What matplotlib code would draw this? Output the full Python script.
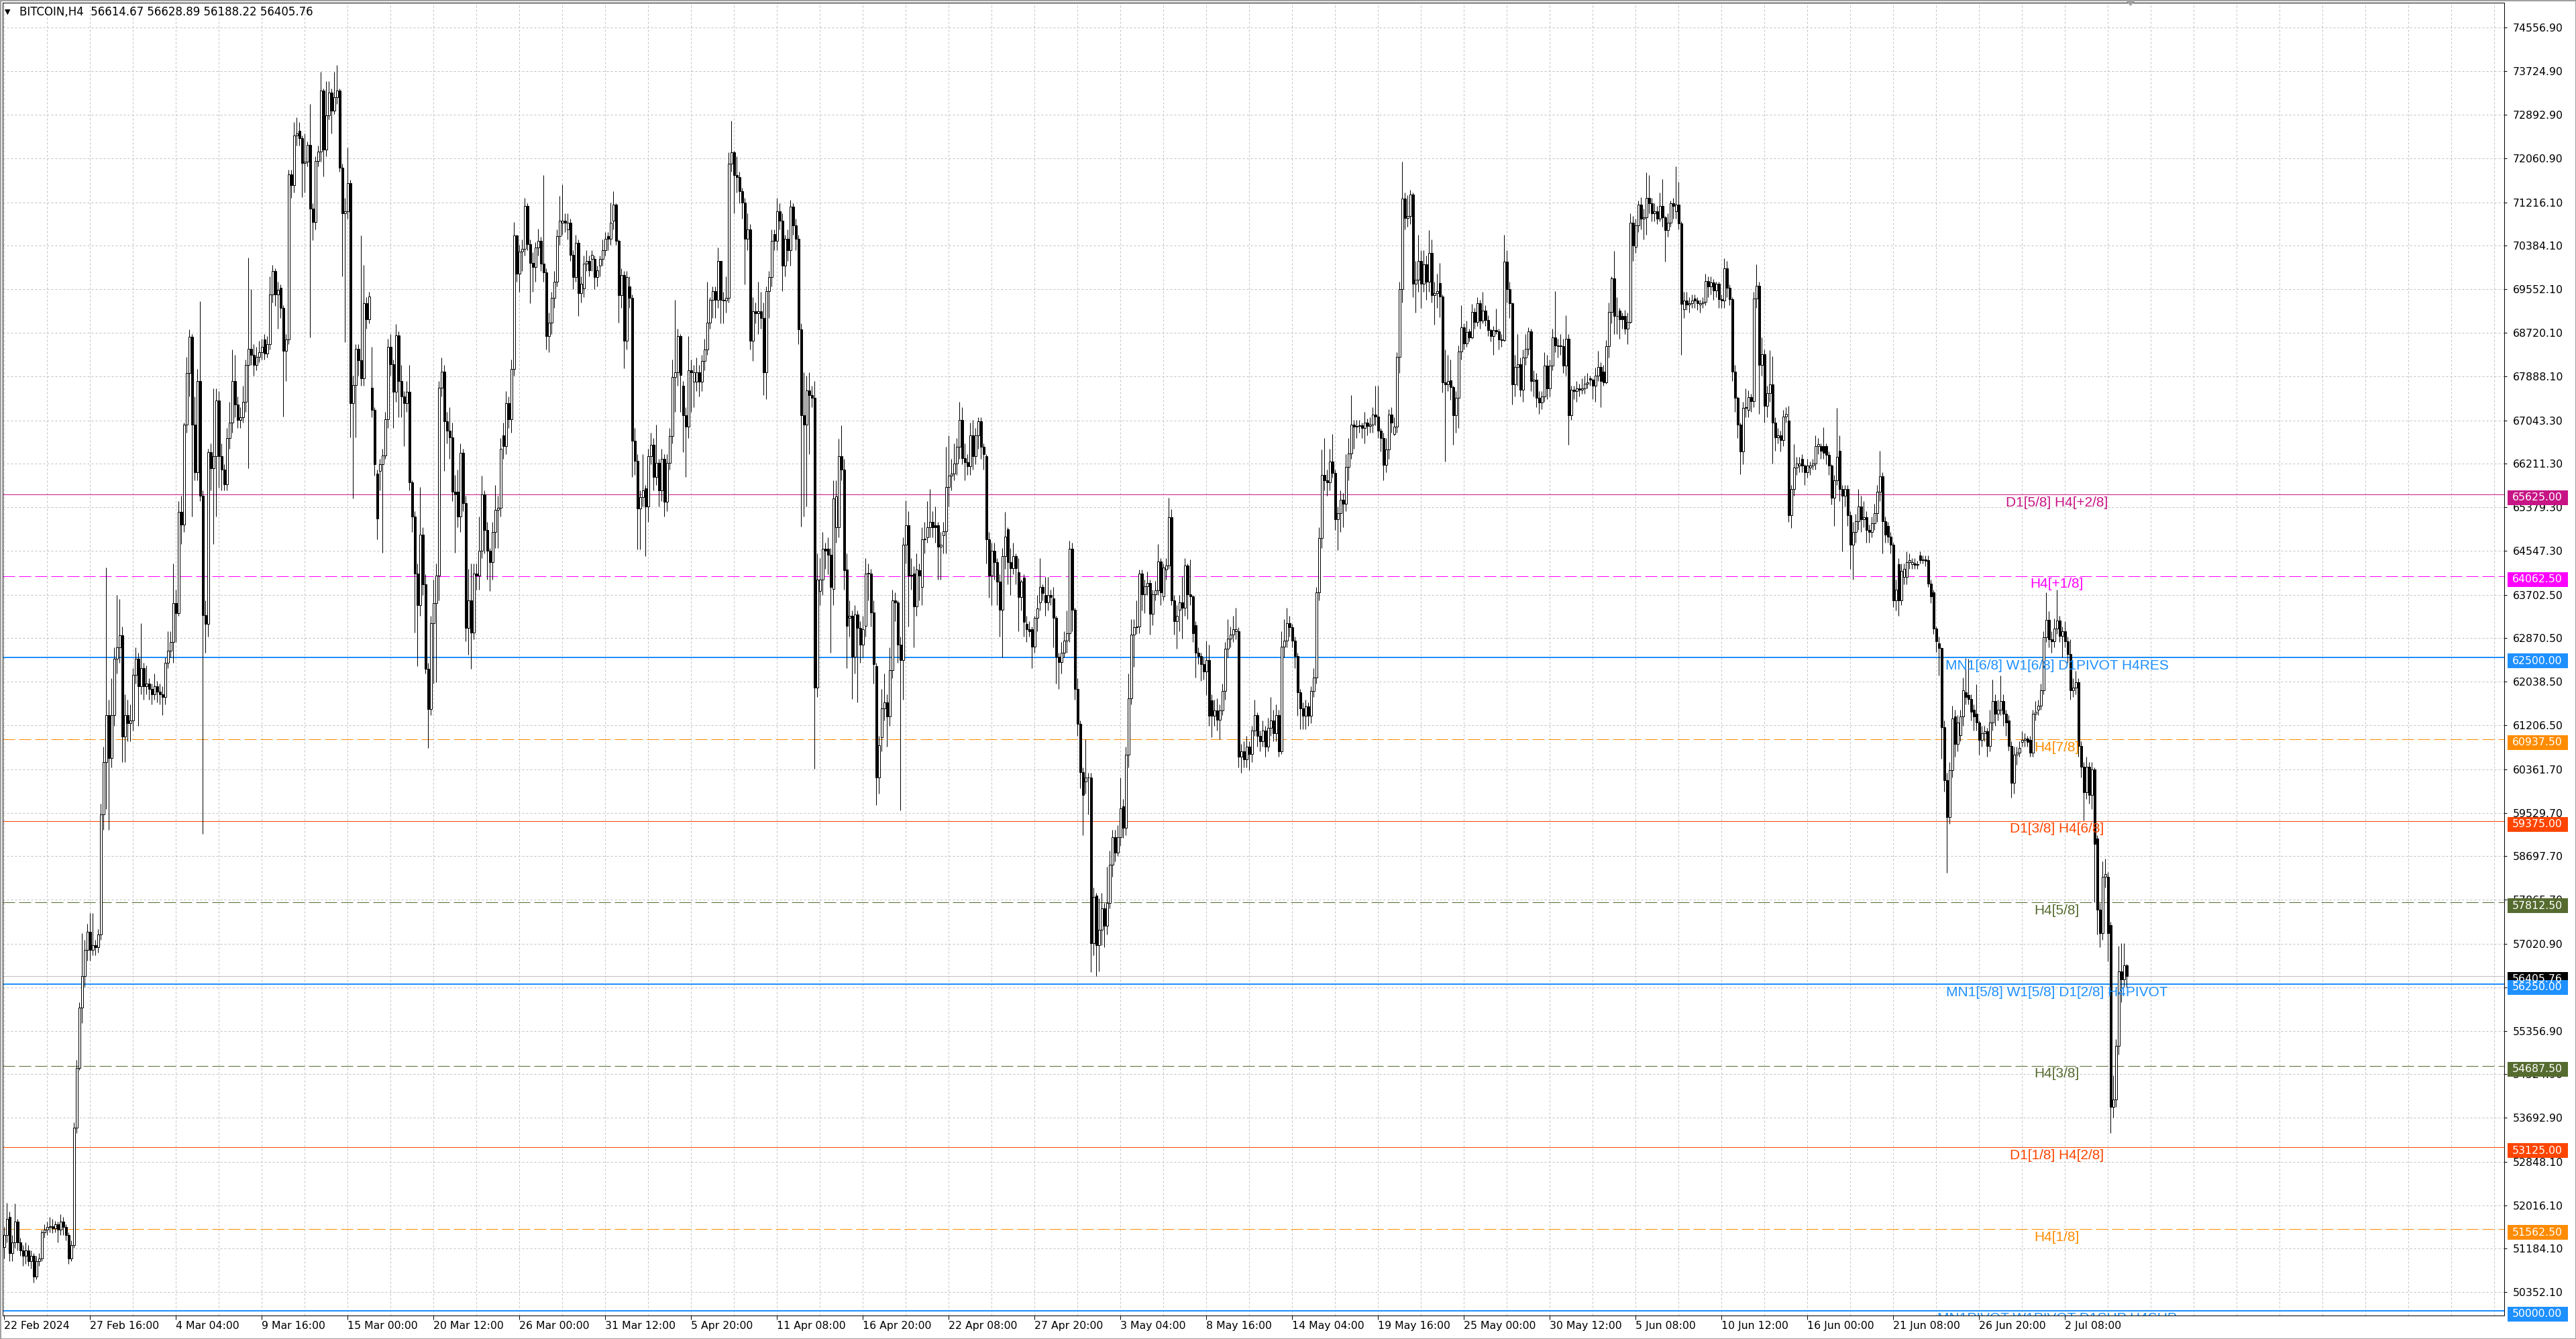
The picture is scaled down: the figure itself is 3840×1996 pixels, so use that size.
import numpy as np
import matplotlib
matplotlib.use("Agg")
import matplotlib.pyplot as plt
from matplotlib.patches import Rectangle, Polygon
from matplotlib.transforms import blended_transform_factory

# H4 candles, (open, high, low, close), one list per stretch
seg_feb = [
    (51220, 51600, 51000, 51450), (51450, 52060, 51300, 51750), (51800, 51900, 50950, 51100),
    (51100, 51450, 50950, 51300), (51300, 52050, 51200, 51700), (51700, 51750, 51150, 51300),
    (51300, 51400, 51050, 51150), (51150, 51250, 50850, 51050), (51050, 51300, 50900, 51150),
    (51150, 51250, 50850, 50950), (50950, 51150, 50800, 51050), (51050, 51100, 50540, 50650),
    (50650, 51050, 50600, 50950), (50950, 51100, 50850, 51000), (51000, 51550, 50950, 51500),
    (51500, 51650, 51400, 51550), (51550, 51700, 51450, 51600), (51600, 51800, 51500, 51620),
    (51620, 51750, 51480, 51580), (51580, 51720, 51500, 51650), (51650, 51700, 51300, 51550),
    (51550, 51850, 51450, 51700), (51700, 51800, 51450, 51600), (51600, 51650, 51350, 51450),
    (51450, 51500, 50900, 51000), (51000, 51350, 50950, 51250), (51250, 53600, 51200, 53500),
    (53500, 54800, 53400, 54640), (54640, 55900, 54600, 55800), (55800, 57230, 55500, 56400),
    (56400, 57100, 56200, 56900), (56900, 57400, 56700, 57250), (57250, 57610, 56700, 56900),
    (56900, 57610, 56800, 57000), (57000, 57100, 56800, 56950), (56950, 57300, 56850, 57200),
    (57200, 59700, 57100, 59500), (59500, 60800, 59200, 60500), (60500, 64225, 59600, 61400),
    (61400, 61700, 59210, 60580), (60580, 62100, 60400, 61400), (61400, 62700, 61200, 62480),
    (62480, 63700, 62200, 62700), (62700, 63620, 62400, 62930), (62930, 63100, 60500, 60990),
    (60990, 61800, 60500, 61400), (61400, 61700, 60900, 61250), (61250, 61600, 60900, 61300),
    (61300, 62300, 61100, 62170), (62170, 62700, 62000, 62480), (62480, 62600, 61200, 61950),
    (61950, 63160, 61800, 62300), (62300, 62400, 61700, 61950), (61950, 62350, 61800, 62000),
    (62000, 62100, 61700, 61900), (61900, 62000, 61600, 61800), (61800, 62200, 61700, 61950),
    (61950, 62050, 61650, 61850), (61850, 62000, 61600, 61800), (61800, 61950, 61400, 61750),
    (61750, 62500, 61600, 62400), (62400, 63000, 62300, 62630), (62630, 63000, 62500, 62800),
    (62800, 64300, 62400, 63540), (63540, 63800, 62800, 63350), (63350, 65500, 63300, 65290),
    (65290, 65600, 64680, 65050), (65050, 67000, 64900, 66960), (66960, 68260, 66800, 67950),
    (67950, 68790, 67500, 68640), (68640, 68700, 65200, 66960), (66960, 67500, 65900, 66050),
    (66050, 68030, 65900, 67800), (67800, 69320, 65500, 65600), (65600, 65700, 59130, 63310),
    (63310, 63600, 62600, 63150), (63150, 66500, 62900, 66430), (66430, 66600, 65700, 66130),
    (66130, 67650, 64680, 66355), (66355, 67650, 65200, 67420), (67420, 67600, 65750, 66355),
    (66355, 66600, 65700, 66100), (66100, 66200, 65700, 65820), (65820, 66900, 65700, 66700),
    (66700, 67400, 66500, 67000), (67000, 68400, 66800, 67800), (67800, 68300, 67100, 67340),
    (67340, 67500, 66900, 67050), (67050, 67300, 66900, 67100), (67100, 67700, 67000, 67400),
    (67400, 68200, 67200, 68100), (68100, 70160, 66130, 68410), (68410, 69550, 68100, 68300),
    (68300, 68500, 67900, 68100), (68100, 68450, 68000, 68260), (68260, 68560, 68150, 68350),
    (68350, 68600, 68200, 68450),
]

seg_mar = [
    (68585, 68700, 68200, 68325), (68325, 68650, 68250, 68500), (68500, 69800, 68400, 69450),
    (69450, 70020, 69300, 69900), (69900, 69950, 69235, 69450), (69450, 69700, 68800, 69540),
    (69580, 69650, 69000, 69190), (69190, 69250, 67110, 68370), (68370, 68700, 67800, 68585),
    (68585, 71840, 68500, 71750), (71750, 71840, 71300, 71540), (71540, 72750, 71400, 72490),
    (72490, 72840, 72300, 72535), (72580, 72750, 72300, 72450), (72450, 72500, 71320, 71970),
    (71970, 72530, 71410, 71990), (71990, 72380, 71900, 72320), (72320, 73100, 68630, 71100),
    (71100, 71200, 70490, 70840), (70840, 72100, 70700, 72010), (72010, 72300, 71900, 72190),
    (72190, 73710, 72000, 73360), (73360, 73400, 71710, 72230), (72230, 73530, 72100, 72880),
    (72880, 73530, 72800, 73315), (73315, 73400, 72530, 72970), (72970, 73710, 72900, 73230),
    (73230, 73840, 73100, 73360), (73360, 73400, 71800, 71880), (71880, 71950, 69800, 71010),
    (71010, 71300, 68540, 71050), (71050, 72270, 70900, 71580), (71580, 71650, 66720, 67370),
    (67370, 67900, 65550, 67720), (67720, 68500, 66720, 68410), (68410, 68500, 67900, 68190),
    (68190, 70580, 67700, 67850), (67850, 70020, 67700, 69280), (69280, 69400, 68800, 68975),
    (68975, 69500, 68900, 69410), (67670, 68455, 67100, 67240), (67240, 67300, 65980, 66200),
    (66025, 66100, 64765, 65160), (66070, 66300, 65700, 66200), (66200, 66500, 64505, 66370),
    (66370, 67200, 66300, 67065), (67065, 68600, 66900, 68455), (68455, 68700, 67900, 68110),
    (68110, 68200, 66900, 67590), (67590, 68890, 67400, 68670), (68670, 68750, 67100, 67800),
    (67800, 68100, 67100, 67500), (67500, 67600, 66545, 67370), (67370, 67800, 67200, 67590),
    (67590, 68100, 65700, 65850), (65850, 65900, 64900, 65200), (65200, 65300, 62985, 64115),
    (64115, 64300, 62335, 63510), (63510, 65765, 63300, 64850), (64850, 65000, 63700, 63900),
    (63900, 64100, 62200, 62290), (62290, 62400, 60770, 61510), (61510, 63300, 61400, 63160),
    (63160, 64000, 62000, 63550), (63550, 64300, 62030, 64070), (64070, 67800, 63600, 67670),
    (67670, 68240, 67500, 67980), (67980, 68100, 66070, 67020), (67020, 67200, 66600, 66850),
    (66850, 67300, 66300, 66720), (66720, 67000, 65500, 65680), (65680, 66000, 64505, 65630),
    (65680, 66100, 65000, 65200), (65200, 66600, 64900, 66415), (66415, 66500, 65300, 65460),
    (65460, 65600, 62810, 63070), (63070, 64200, 62550, 63590), (63590, 64300, 62290, 62985),
    (62985, 64300, 62855, 64115), (64115, 64300, 63800, 64070), (64070, 65200, 63800, 64550),
    (64550, 65980, 64400, 65630), (65630, 65700, 64500, 64940), (64940, 65100, 64000, 64550),
    (64550, 64600, 63770, 64330), (64330, 65100, 64000, 64900), (64900, 65800, 64600, 65330),
    (65330, 65600, 64600, 65370), (65370, 66700, 65200, 66500), (66760, 67000, 66300, 66545),
    (66545, 67600, 66400, 67370), (67370, 67500, 66900, 67065), (67065, 68200, 66800, 68020),
    (68020, 70840, 67900, 70580), (70580, 70600, 69700, 69845), (69845, 70400, 69500, 70280),
    (70280, 70500, 69900, 70320), (70320, 71300, 70200, 71145), (71145, 71200, 70300, 70410),
    (70410, 70500, 69280, 70060),
]

seg_apr = [
    (70060, 70260, 69500, 69975), (69975, 70450, 69700, 70350), (70350, 70710, 70200, 70480),
    (70480, 70550, 69900, 70045), (70045, 71735, 69700, 69870), (69870, 69950, 68395, 68655),
    (68655, 69100, 68350, 68915), (68915, 69500, 68700, 69390), (69390, 69900, 69200, 69695),
    (69695, 70700, 69600, 70565), (70565, 71345, 70400, 70870), (70825, 71560, 70600, 70870),
    (70870, 71000, 70650, 70825), (70695, 71000, 70500, 70825), (70825, 70900, 70100, 70215),
    (70215, 70300, 69560, 69780), (69780, 70600, 69700, 70435), (70435, 70500, 69045, 69480),
    (69480, 69800, 69300, 69655), (69565, 70200, 69400, 70045), (70045, 70300, 69900, 70090),
    (70090, 70200, 69800, 69915), (70130, 70300, 69900, 70215), (70130, 70200, 69560, 69780),
    (69780, 70000, 69600, 69915), (70000, 70200, 69800, 70130), (70130, 70500, 70000, 70305),
    (70305, 70650, 70200, 70520), (70565, 70650, 70300, 70520), (70520, 71215, 70400, 70825),
    (70870, 71430, 70700, 71170), (71170, 71200, 70400, 70480), (70480, 70500, 68915, 69435),
    (69435, 69950, 69200, 69825), (69825, 69900, 68045, 68570), (68570, 69900, 68400, 69780),
    (69610, 69800, 69200, 69390), (69390, 69450, 65960, 66655), (66655, 66900, 66000, 66265),
    (66265, 66400, 64575, 65355), (65355, 65700, 64575, 65570), (65570, 66400, 65400, 65705),
    (65745, 65800, 64445, 65400), (65400, 66500, 65100, 66355), (66355, 66800, 66200, 66570),
    (66570, 66700, 65700, 65965), (65965, 66960, 65800, 66225), (66225, 66300, 65400, 65705),
    (65705, 66500, 65500, 66310), (66310, 66400, 65200, 65485), (65485, 66400, 65300, 66225),
    (66225, 66900, 66100, 66745), (66745, 68200, 66600, 67870), (67870, 69350, 67200, 67960),
    (67960, 68800, 67700, 68655), (68655, 68700, 67200, 67915), (67700, 67800, 66440, 67135),
    (67135, 67300, 65960, 66920), (66920, 68655, 66700, 68005), (68005, 68200, 67200, 67960),
    (67785, 68100, 67300, 67960), (67785, 68250, 67600, 67960), (67960, 68100, 67500, 67785),
    (67785, 68300, 67600, 68175), (68175, 68600, 68000, 68395), (68395, 69695, 68300, 68915),
    (68915, 69400, 68800, 69350), (69350, 69600, 69000, 69520), (69520, 69600, 69000, 69350),
    (69350, 70345, 69200, 70090), (70090, 70100, 68900, 69350), (69350, 69500, 68900, 69340),
    (69340, 69800, 69100, 69390), (69390, 72170, 69300, 71950), (71950, 72780, 71800, 72170),
    (72170, 72200, 71000, 71735), (71735, 72100, 71400, 71700), (71700, 71800, 71200, 71430),
    (71430, 71500, 70900, 71215), (71215, 71300, 69650, 70520), (70520, 71000, 70300, 70695),
    (70695, 70800, 68400, 68570), (68570, 69400, 68175, 69130), (69130, 69300, 68900, 69090),
    (69090, 69700, 68700, 69130), (69130, 69500, 68800, 69000), (69000, 69300, 67525, 67960),
    (67960, 69600, 67450, 69520), (69520, 69900, 69000, 69780), (69780, 70700, 69600, 70480),
    (70610, 70700, 70300, 70480), (70480, 71300, 70300, 71040), (71040, 71200, 70700, 70870),
    (70870, 71000, 69520, 70000), (70000, 70600, 69800, 70520), (70520, 70700, 70100, 70305),
    (70305, 71260, 70000, 71130), (71130, 71200, 70600, 70780), (70780, 70900, 70300, 70520),
    (70520, 70600, 68500, 68785), (68785, 68900, 65010, 67135), (67135, 67960, 65200, 66960),
    (66960, 67900, 65400, 67610), (67610, 67960, 66400, 67525), (67525, 67700, 67300, 67480),
]

seg_may = [
    (67480, 67800, 60370, 61930), (61930, 64500, 61750, 63995), (63775, 64400, 63500, 63995),
    (63995, 64900, 63700, 64585), (64585, 64700, 64200, 64550), (64585, 64800, 64100, 64475),
    (64475, 64600, 62595, 63850), (63810, 65900, 63500, 65545), (64990, 65900, 64700, 65580),
    (64990, 66685, 64800, 66355), (66355, 66945, 65900, 66100), (66100, 66300, 63800, 64180),
    (64180, 64500, 62300, 63110), (63260, 63600, 62900, 63295), (63295, 63400, 61710, 62520),
    (62520, 63500, 62200, 63330), (63330, 63400, 61640, 63075), (63075, 63200, 62400, 62745),
    (62745, 63300, 62500, 63040), (63110, 64400, 62900, 64105), (64105, 64300, 63600, 64120),
    (64105, 64200, 63100, 63370), (63370, 63600, 62000, 62375), (62340, 62400, 59685, 60200),
    (60200, 61000, 59900, 60825), (60975, 61900, 60700, 61525), (61525, 62200, 61300, 61640),
    (61640, 61800, 60800, 61380), (61380, 62700, 61200, 62265), (62265, 63800, 62100, 63590),
    (63590, 63750, 63200, 63555), (63555, 63600, 62400, 62745), (62745, 62900, 59575, 62450),
    (62450, 64800, 61700, 64660), (64660, 65505, 64300, 65030), (65030, 65300, 63100, 64070),
    (64070, 64400, 63800, 64090), (64105, 64250, 62700, 63480), (63480, 64500, 63300, 64180),
    (64180, 64300, 63600, 64070), (63850, 65000, 63500, 64770), (64770, 65100, 64500, 64780),
    (64805, 65500, 64700, 64990), (64990, 65730, 64800, 65100), (65100, 65300, 64800, 64990),
    (65030, 65400, 64700, 64990), (65030, 65100, 64000, 64620), (64620, 64900, 64000, 64660),
    (64845, 65100, 64500, 64920), (64920, 66540, 64500, 65765), (65765, 66750, 65400, 65990),
    (65990, 66300, 65700, 66025), (66025, 66600, 65900, 66210), (66210, 66700, 66000, 66540),
    (66540, 67400, 66300, 67055), (67055, 67300, 66200, 66320), (66320, 66600, 65900, 66245),
    (66245, 66400, 66000, 66170), (66170, 67000, 66000, 66760), (66760, 67050, 66100, 66355),
    (66355, 66900, 66200, 66760), (66760, 67100, 66500, 67020), (67020, 67100, 66300, 66540),
    (66540, 66600, 66100, 66390), (66355, 66400, 64300, 64770), (64770, 64900, 63650, 64070),
    (64070, 64700, 63500, 64550), (64550, 64700, 64000, 64330), (64330, 64400, 63500, 63960),
    (63960, 64100, 62900, 63410), (63410, 64600, 62500, 64440), (64440, 65285, 64200, 64810),
    (64955, 65000, 63900, 64330), (64330, 64600, 63700, 64215), (64215, 64700, 64100, 64440),
    (64440, 64500, 63900, 64215), (64140, 64400, 63000, 63665), (63665, 64000, 63400, 63960),
    (64035, 64100, 62900, 63185), (63150, 63300, 62800, 63040), (63040, 63200, 62900, 63000),
    (63040, 63100, 62300, 62710), (62710, 63300, 62600, 63260), (63260, 63700, 63000, 63445),
    (63555, 64400, 63400, 63850), (63850, 63900, 63600, 63740), (63700, 64050, 63300, 63555),
    (63555, 64050, 63400, 63700), (63700, 63800, 63500, 63665), (63630, 63850, 62700, 63260),
    (63260, 63300, 62000, 62520), (62520, 62600, 61900, 62410), (62410, 62800, 62200, 62595),
    (62595, 63000, 62500, 62820), (62820, 63400, 62600, 62965), (62965, 64735, 62800, 64585),
    (64585, 64700, 63000, 63410), (63410, 63450, 61700, 61895), (61895, 62100, 61000, 61230),
    (61230, 61300, 60000, 60310), (60310, 60400, 59095, 59870), (60130, 60938, 59900, 60200),
    (60200, 60300, 59500, 60210), (60200, 60300, 56480, 57030), (57030, 58100, 56800, 57915),
    (57950, 58000, 56400, 56995), (56995, 57900, 56500, 57290), (57290, 58000, 57000, 57695),
    (57695, 57800, 56950, 57365), (57365, 58500, 57200, 57810), (57810, 58800, 57700, 58540),
    (58540, 59200, 58300, 59060), (59060, 59200, 58600, 58765), (58765, 59300, 58700, 59060),
    (59060, 60200, 58900, 59610), (59650, 59800, 59050, 59245), (59245, 60800, 59100, 60645),
]

seg_may2 = [
    (60645, 62195, 60400, 61715), (61715, 63230, 61600, 62935), (62935, 63230, 62330, 63080),
    (63080, 63600, 62950, 63090), (63090, 64190, 62970, 64115), (64115, 64190, 63400, 63710),
    (63710, 64000, 63350, 63860), (63860, 64150, 63700, 63930), (63930, 64000, 62935, 63340),
    (63340, 63800, 63120, 63710), (63710, 63970, 63600, 63785), (63785, 64670, 63700, 64340),
    (64340, 64400, 63500, 63750), (63670, 64300, 63600, 64230), (64190, 64400, 64000, 64265),
    (64265, 65560, 64200, 65190), (65190, 65340, 63500, 63600), (63600, 63700, 62935, 63195),
    (63195, 63500, 62675, 63305), (63415, 63700, 63000, 63560), (63560, 64060, 62860, 63450),
    (63450, 64410, 63300, 64265), (64265, 64300, 63230, 63710), (63710, 64380, 63500, 63670),
    (63670, 63700, 62800, 62970), (63120, 63200, 62120, 62600), (62600, 62700, 62380, 62530),
    (62530, 62600, 62050, 62380), (62380, 62500, 62080, 62230), (62230, 62825, 61790, 62455),
    (62455, 62750, 61200, 61385), (61680, 61800, 60975, 61385), (61385, 61700, 61200, 61495),
    (61495, 61720, 61100, 61310), (61310, 61600, 60940, 61495), (61495, 62000, 61400, 61865),
    (61865, 62800, 61700, 62675), (62675, 63230, 62500, 62860), (62860, 63100, 62700, 62935),
    (62935, 63300, 62800, 63045), (63010, 63450, 62850, 63045), (63010, 63080, 60400, 60600),
    (60600, 60850, 60300, 60700), (60700, 60900, 60400, 60550), (60550, 61000, 60400, 60800),
    (60800, 60900, 60350, 60650), (60650, 61200, 60500, 61100), (61100, 61700, 61000, 61400),
    (61400, 61450, 60800, 61000), (61000, 61100, 60700, 60900), (60900, 61300, 60800, 61100),
    (61100, 61200, 60600, 60800), (60800, 61350, 60700, 61150), (61150, 61750, 61000, 61300),
    (61300, 61500, 60900, 61050), (61050, 61600, 60900, 61400), (61400, 61500, 60600, 60700),
    (60700, 63000, 60650, 62710), (62710, 63230, 62500, 62825), (62825, 63450, 62700, 63155),
    (63155, 63300, 62900, 63080), (63080, 63150, 62700, 62825), (62825, 62900, 62300, 62530),
    (62530, 62600, 61385, 61830), (61830, 61900, 61130, 61530), (61530, 61650, 61130, 61385),
    (61385, 61700, 61130, 61570), (61570, 61650, 61200, 61385), (61385, 61950, 61250, 61865),
    (61865, 62300, 61750, 62120), (62120, 63850, 62000, 63750), (63750, 65000, 63600, 64785),
    (64785, 66480, 64600, 66000), (66000, 66700, 65700, 65890), (65890, 66100, 65600, 65855),
    (65855, 66500, 65700, 66260), (66260, 66780, 65950, 66040), (66040, 66100, 64950, 65150),
    (65150, 65400, 64560, 65260), (65260, 65700, 64900, 65520), (65520, 65650, 65000, 65450),
    (65450, 66400, 65300, 66150), (66150, 66700, 65900, 66410), (66410, 67520, 66300, 66960),
    (66960, 67050, 66500, 66925), (66925, 67050, 66700, 66940), (66940, 67050, 66800, 66950),
    (66950, 67000, 66700, 66900), (66900, 67200, 66600, 67000), (67000, 67080, 66750, 66930),
    (66930, 67100, 66800, 66960), (66960, 67300, 66800, 67150), (67150, 67700, 66950, 67110),
    (67110, 67700, 66700, 66850), (66850, 66900, 66450, 66700), (66700, 66800, 65900, 66185),
    (66185, 66700, 66050, 66480), (66480, 67250, 66300, 67150), (67150, 67300, 66800, 67000),
    (66780, 67100, 66750, 66925), (66925, 68350, 66800, 68255), (68255, 69700, 67950, 69550),
    (69550, 71990, 69300, 71285), (71285, 71400, 70700, 70915), (70915, 71350, 70750, 70950),
    (70950, 71450, 70800, 71360), (71360, 71400, 69400, 69660), (69660, 70100, 69100, 69735),
    (69735, 70600, 69500, 70100), (70100, 70300, 69200, 69660), (69660, 70300, 69500, 70030),
    (70030, 70200, 69350, 69700), (69700, 70680, 69500, 70250), (70250, 70500, 69300, 69440),
    (69440, 69700, 68880, 69480), (69480, 69850, 69200, 69520),
]

seg_jun = [
    (69670, 70050, 69020, 69410), (69410, 69450, 67580, 67775), (67775, 68400, 66255, 67725),
    (67725, 68300, 67600, 67800), (67810, 68200, 67430, 67675), (67675, 67700, 66575, 67135),
    (67135, 67600, 66800, 67480), (67480, 68480, 66900, 68360), (68360, 69240, 68200, 68825),
    (68825, 68900, 68400, 68510), (68510, 68950, 68450, 68730), (68750, 68800, 68550, 68630),
    (68630, 69270, 68600, 69120), (69120, 69200, 68800, 68930), (68930, 69400, 68850, 69290),
    (69290, 69350, 68800, 68950), (68950, 69500, 68900, 69145), (69145, 69250, 68850, 68970),
    (68970, 69050, 68650, 68775), (68775, 68800, 68550, 68655), (68655, 68850, 68300, 68775),
    (68775, 69180, 68700, 68740), (68740, 68800, 68400, 68590), (68590, 68700, 68450, 68580),
    (68580, 70590, 68550, 70075), (70075, 70300, 69300, 69560), (69560, 69700, 69000, 69290),
    (69290, 69300, 67350, 67725), (67725, 68300, 67500, 68065), (68065, 68700, 67700, 68115),
    (68115, 68250, 67500, 67625), (67625, 68400, 67400, 68240), (68240, 68700, 68100, 68410),
    (68410, 68825, 68300, 68750), (68750, 68800, 67600, 67800), (67800, 68000, 67500, 67820),
    (67820, 67950, 67300, 67480), (67480, 67600, 67170, 67380), (67380, 67600, 67250, 67500),
    (67500, 68350, 67400, 68090), (68090, 68300, 67450, 67650), (67650, 68200, 67500, 68090),
    (68090, 68800, 68000, 68630), (68630, 69510, 68350, 68480), (68480, 68600, 68250, 68460),
    (68470, 68700, 68300, 68460), (68460, 68600, 67950, 68090), (68090, 69050, 67900, 68600),
    (68600, 68700, 66575, 67135), (67135, 67700, 67050, 67625), (67625, 67700, 67450, 67600),
    (67600, 67800, 67400, 67650), (67650, 67750, 67500, 67625), (67625, 67850, 67550, 67650),
    (67650, 67900, 67550, 67750), (67750, 67950, 67650, 67770), (67850, 67900, 67700, 67820),
    (67820, 67850, 67450, 67700), (67700, 68050, 67400, 67895), (67895, 68370, 67800, 68065),
    (68065, 68150, 67300, 67800), (67970, 68100, 67700, 67775), (67775, 68580, 67750, 68460),
    (68460, 69300, 68250, 69120), (69120, 69800, 68900, 69755), (69755, 70290, 68700, 69045),
    (69045, 69400, 68700, 69040), (69145, 69200, 68600, 68975), (69045, 69100, 68800, 68975),
    (69045, 69150, 68700, 68800), (68800, 69100, 68500, 68925), (68925, 71000, 68900, 70830),
    (70830, 70950, 70100, 70390), (70365, 70900, 70250, 70780), (70780, 71250, 70650, 71175),
    (71175, 71320, 70700, 70905), (70905, 71100, 70500, 70930), (70930, 71785, 70600, 71300),
    (71300, 71735, 71000, 71200), (71200, 71300, 70850, 71005), (71005, 71200, 70850, 71050),
    (71050, 71150, 70800, 70905), (70905, 71400, 70850, 71150), (71150, 71665, 70750, 70930),
    (70930, 70950, 70075, 70685), (70685, 71000, 70550, 70830), (70830, 71250, 70750, 71200),
    (71200, 71300, 70900, 71150), (71050, 71910, 70900, 71175), (71175, 71615, 70700, 70810),
    (70810, 70850, 68290, 69270), (69170, 69500, 69000, 69340), (69340, 69500, 69150, 69265),
    (69265, 69400, 69100, 69290), (69290, 69450, 69200, 69340), (69375, 69450, 69200, 69340),
    (69340, 69400, 69150, 69290), (69265, 69350, 69100, 69290), (69290, 69400, 69200, 69315),
    (69315, 69850, 69250, 69705), (69705, 69800, 69400, 69610), (69610, 69800, 69450, 69680),
    (69680, 69750, 69350, 69535), (69535, 69700, 69400, 69655), (69655, 69700, 69200, 69365),
    (69365, 69450, 69200, 69340), (69340, 70150, 69200, 69950), (69950, 70100, 69400, 69585),
    (69585, 69650, 69250, 69365), (69365, 69400, 67800, 67970), (67970, 68100, 67200, 67480),
    (67480, 67500, 66700, 66965), (66965, 67000, 66010, 66450), (66450, 67400, 66200, 67285),
]

seg_jun2 = [
    (67280, 67650, 67100, 67290), (67240, 67610, 67100, 67485), (67485, 67550, 67200, 67405),
    (67405, 69500, 67300, 69370), (69370, 70030, 69200, 69620), (69620, 69700, 67160, 68100),
    (68100, 68635, 67900, 68305), (68305, 68400, 66995, 67320), (67320, 67700, 67100, 67570),
    (67570, 68390, 67400, 67730), (67730, 68265, 66215, 66995), (66995, 67100, 66460, 66710),
    (66710, 66900, 66600, 66750), (66750, 66850, 66450, 66665), (66665, 67240, 66550, 67115),
    (67115, 67300, 67000, 67160), (67035, 67320, 65100, 65230), (65230, 65800, 64985, 65725),
    (65725, 66585, 65600, 66135), (66135, 66350, 66000, 66215), (66175, 66350, 66050, 66215),
    (66300, 66400, 66050, 66175), (66175, 66200, 65805, 66050), (66050, 66300, 65950, 66175),
    (66135, 66250, 66000, 66175), (66175, 66300, 66100, 66215), (66215, 66750, 66100, 66545),
    (66545, 66700, 66400, 66585), (66545, 66600, 66300, 66460), (66545, 66910, 66300, 66420),
    (66545, 66600, 66200, 66380), (66380, 66450, 66000, 66175), (66175, 66200, 65435, 65560),
    (65560, 66000, 65025, 65890), (65890, 67280, 65800, 66340), (66460, 66750, 65500, 65725),
    (65725, 65800, 64535, 65600), (65600, 65805, 65400, 65725), (65725, 65800, 65025, 65230),
    (65230, 65300, 64205, 64660), (64660, 65100, 64000, 64900), (64900, 65250, 64700, 65110),
    (65110, 65725, 64950, 65395), (65395, 65600, 64900, 65150), (65150, 65500, 65000, 65190),
    (65190, 65300, 64700, 64945), (64945, 65050, 64700, 64900), (64900, 65200, 64800, 65070),
    (65070, 65450, 64950, 65270), (65270, 65800, 65100, 65680), (65680, 66460, 65500, 65970),
    (65970, 66050, 64495, 65110), (65110, 65200, 64700, 64860), (65025, 65100, 64700, 64820),
    (64820, 64900, 64500, 64660), (64660, 64700, 63470, 63590), (63590, 64000, 63400, 63795),
    (64290, 64400, 63305, 63590), (63590, 64300, 63500, 64165), (64040, 64300, 63900, 64205),
    (64040, 64535, 63900, 64330), (64330, 64500, 64200, 64370), (64290, 64400, 64200, 64330),
    (64300, 64400, 64200, 64270), (64290, 64350, 64200, 64270), (64450, 64535, 64300, 64370),
    (64370, 64450, 64300, 64385), (64385, 64450, 64250, 64350), (64370, 64450, 63850, 63920),
    (63920, 64000, 63550, 63675), (63755, 63800, 62950, 63060), (63060, 63100, 62610, 62810),
    (62770, 62900, 62155, 62690), (62690, 62700, 60560, 61170), (61170, 61300, 59940, 60150),
    (60150, 60300, 58385, 59450), (59450, 60500, 59325, 60350), (60350, 61580, 60200, 61335),
    (61375, 61500, 60600, 60845), (60845, 61400, 60700, 61255), (61010, 61500, 60900, 61375),
    (61375, 62115, 61200, 61870), (61830, 62485, 61600, 61750), (61790, 62480, 61600, 61705),
    (61705, 61800, 61300, 61460), (61500, 61600, 61100, 61375), (61420, 61990, 61100, 61255),
    (61255, 61300, 60640, 60925), (60925, 61200, 60800, 61050), (61050, 61200, 60900, 61090),
    (61090, 61150, 60600, 60805), (60805, 61500, 60700, 61255), (61255, 62075, 61100, 61665),
    (61665, 61800, 61200, 61420), (61420, 61700, 61300, 61500), (61500, 62155, 61400, 61665),
    (61665, 61800, 61200, 61420), (61420, 61500, 61000, 61255), (61295, 61400, 60720, 60805),
    (60805, 60900, 59820, 60105), (60105, 60800, 59900, 60640), (60640, 60800, 60450, 60680),
    (60680, 60900, 60600, 60765), (60885, 61090, 60800, 60925), (60925, 61050, 60800, 60945),
    (60945, 61000, 60800, 60885), (60925, 61000, 60600, 60680), (60680, 61500, 60600, 61420),
    (61420, 61665, 61300, 61460), (61500, 61700, 61400, 61580), (61580, 62000, 61500, 61870),
    (61870, 63000, 61800, 62895), (62895, 63755, 62800, 63220), (63220, 63385, 62700, 62855),
    (62855, 63000, 62600, 62815),
]

seg_jul = [
    (62815, 63250, 62700, 63060), (63060, 63800, 62950, 63205), (63205, 63300, 62800, 62910),
    (62910, 63100, 62500, 63010), (63010, 63200, 62700, 62815), (62815, 62900, 62400, 62570),
    (62570, 62850, 61700, 61880), (61880, 62100, 61750, 61930), (61930, 62250, 61800, 62030),
    (62030, 62100, 60600, 60805), (60805, 60900, 60200, 60410), (60410, 60500, 59380, 59920),
    (59920, 60600, 59800, 60410), (60410, 60500, 59700, 59870), (59870, 60500, 59600, 60360),
    (60360, 60400, 57820, 58940), (59040, 59100, 57200, 57670), (57670, 57800, 56960, 57230),
    (57230, 58600, 57100, 58305), (58305, 58650, 58100, 58355), (58305, 58400, 56690, 57230),
    (57380, 57450, 53405, 53895), (53895, 54500, 53700, 54045), (54045, 55200, 53900, 55070),
    (55070, 56980, 54900, 56490), (56490, 57030, 55900, 56345), (56345, 57030, 56200, 56615),
    (56614.67, 56628.89, 56188.22, 56405.76),
]

# levels drawn by the indicator, top to bottom
level_prices = [65625.0, 64062.5, 62500.0, 60937.5, 59375.0, 57812.5,
                56250.0, 54687.5, 53125.0, 51562.5, 50000.0]
level_names = ["D1[5/8] H4[+2/8]", "H4[+1/8]", "MN1[6/8] W1[6/8] D1PIVOT H4RES",
               "H4[7/8]", "D1[3/8] H4[6/8]", "H4[5/8]",
               "MN1[5/8] W1[5/8] D1[2/8] H4PIVOT", "H4[3/8]", "D1[1/8] H4[2/8]",
               "H4[1/8]", "MN1PIVOT W1PIVOT D1SUP H4SUP"]

price_ticks = [74556.90, 73724.90, 72892.90, 72060.90, 71216.10, 70384.10, 69552.10,
               68720.10, 67888.10, 67043.30, 66211.30, 65379.30, 64547.30, 63702.50,
               62870.50, 62038.50, 61206.50, 60361.70, 59529.70, 58697.70, 57865.70,
               57020.90, 56188.90, 55356.90, 54524.90, 53692.90, 52848.10, 52016.10,
               51184.10, 50352.10]

time_labels = ["22 Feb 2024", "27 Feb 16:00", "4 Mar 04:00", "9 Mar 16:00", "15 Mar 00:00",
               "20 Mar 12:00", "26 Mar 00:00", "31 Mar 12:00", "5 Apr 20:00", "11 Apr 08:00",
               "16 Apr 20:00", "22 Apr 08:00", "27 Apr 20:00", "3 May 04:00", "8 May 16:00",
               "14 May 04:00", "19 May 16:00", "25 May 00:00", "30 May 12:00", "5 Jun 08:00",
               "10 Jun 12:00", "16 Jun 00:00", "21 Jun 08:00", "26 Jun 20:00", "2 Jul 08:00"]

symbol = "BITCOIN,H4"
last_bar = (56614.67, 56628.89, 56188.22, 56405.76)

# styling for each level (colour, dashed?, width in px)
level_style = [("#C71585", False, 1), ("#FF00FF", True, 1), ("#1E90FF", False, 2),
               ("#FF8C00", True, 1), ("#FF4500", False, 1), ("#556B2F", True, 1),
               ("#1E90FF", False, 2), ("#556B2F", True, 1), ("#FF4500", False, 1),
               ("#FF8C00", True, 1), ("#1E90FF", False, 2)]

plt.rcParams['font.family'] = ['DejaVu Sans']

W, H = 3840, 1996
PX = 0.72  # one pixel in points at dpi 100
PRICE_PER_PX = 12.842

bars = np.array(seg_feb + seg_mar + seg_apr + seg_may + seg_may2 + seg_jun + seg_jun2 + seg_jul,
                dtype=float)
o, h, l, c = bars[:, 0], bars[:, 1], bars[:, 2], bars[:, 3]
x = np.arange(len(bars))

fig = plt.figure(figsize=(W / 100, H / 100), dpi=100, facecolor="white")
ax_left, ax_right, ax_top, ax_bottom = 4, 3733, 4, 1961
ax = fig.add_axes([ax_left / W, 1 - ax_bottom / H, (ax_right - ax_left) / W,
                   (ax_bottom - ax_top) / H])
ax.set_facecolor("white")

ax.set_xlim(-0.5, (ax_right - 6) / 4)
ax.set_ylim(49906, 75038)

# grid
grid_kw = dict(color="#c0c0c0", lw=PX, ls=(0, (3, 3)), zorder=1)
for p in price_ticks:
    ax.axhline(p, **grid_kw)
for gx in np.arange(0, 932, 16):
    ax.axvline(gx, **grid_kw)

# level lines
for p, (col, dashed, wpx) in zip(level_prices, level_style):
    ls = (0, (18, 6)) if dashed else "solid"
    ax.axhline(p, color=col, lw=wpx * PX, ls=ls, zorder=2)
ax.axhline(last_bar[3], color="#c0c0c0", lw=PX, zorder=2)

# candles
ax.vlines(x, l, h, color="black", lw=PX, zorder=3)
up = c >= o
lo = np.minimum(o, c)
ht = np.abs(c - o)
ax.bar(x[up], ht[up], bottom=lo[up], width=0.75, facecolor="white",
       edgecolor="black", linewidth=PX, zorder=4)
ax.bar(x[~up], ht[~up], bottom=lo[~up], width=0.75, facecolor="black",
       edgecolor="black", linewidth=PX, zorder=4)

# level labels under the lines
label_x = (3066 - 6) / 4
for p, name, (col, dashed, wpx) in zip(level_prices, level_names, level_style):
    ax.annotate(name, xy=(label_x, p), xytext=(0, -2), textcoords="offset points",
                ha="center", va="top", color=col, fontsize=15,
                family=["Liberation Sans", "DejaVu Sans"], zorder=5,
                annotation_clip=False, clip_on=True)

# axes look
for s in ax.spines.values():
    s.set_color("black")
    s.set_linewidth(PX)
ax.yaxis.tick_right()
ax.set_yticks(price_ticks)
ax.set_yticklabels([f"{v:.2f}" for v in price_ticks])
ax.tick_params(axis="y", direction="out", length=3, width=PX, pad=6,
               labelsize=11.3, colors="black")
ax.set_xticks(np.arange(len(time_labels)) * 32)
ax.set_xticklabels(time_labels)
for t in ax.get_xticklabels():
    t.set_ha("left")
ax.tick_params(axis="x", direction="out", length=4, width=PX, pad=2,
               labelsize=11.3, colors="black")

# price boxes on the right scale, sitting a few px under their line
trans = blended_transform_factory(ax.transAxes, ax.transData)
box_x0 = (3738 - ax_left) / (ax_right - ax_left)
box_w = 90 / (ax_right - ax_left)
text_x = (3745 - ax_left) / (ax_right - ax_left)
box_h = 22 * PRICE_PER_PX
box_drop = 5 * PRICE_PER_PX


def price_box(p, col):
    yc = p - box_drop
    ax.add_patch(Rectangle((box_x0, yc - box_h / 2), box_w, box_h, transform=trans,
                           facecolor=col, edgecolor="none", clip_on=False, zorder=6))
    ax.text(text_x, yc, f"{p:.2f}", transform=trans, ha="left", va="center",
            color="white", fontsize=11.3, clip_on=False, zorder=7)


price_box(last_bar[3], "black")
for p, (col, dashed, wpx) in zip(level_prices, level_style):
    price_box(p, col)

# header
fig.text(7 / W, 1 - 18 / H, "\u25bc", fontsize=8, va="center", ha="left")
fig.text(29 / W, 1 - 18 / H,
         f"{symbol}  {last_bar[0]:.2f} {last_bar[1]:.2f} {last_bar[2]:.2f} {last_bar[3]:.2f}",
         fontsize=12, va="center", ha="left")

# window border and chart shift marker
fig.add_artist(Rectangle((0, 0), 1, 1, transform=fig.transFigure, fill=False,
                         edgecolor="#a0a0a0", lw=2.2))
fig.add_artist(Polygon([(3168 / W, 1), (3184 / W, 1), (3176 / W, 1 - 9 / H)],
                       closed=True, transform=fig.transFigure, facecolor="#a0a0a0",
                       edgecolor="none"))

fig.savefig("out.png", dpi=100, facecolor="white")
